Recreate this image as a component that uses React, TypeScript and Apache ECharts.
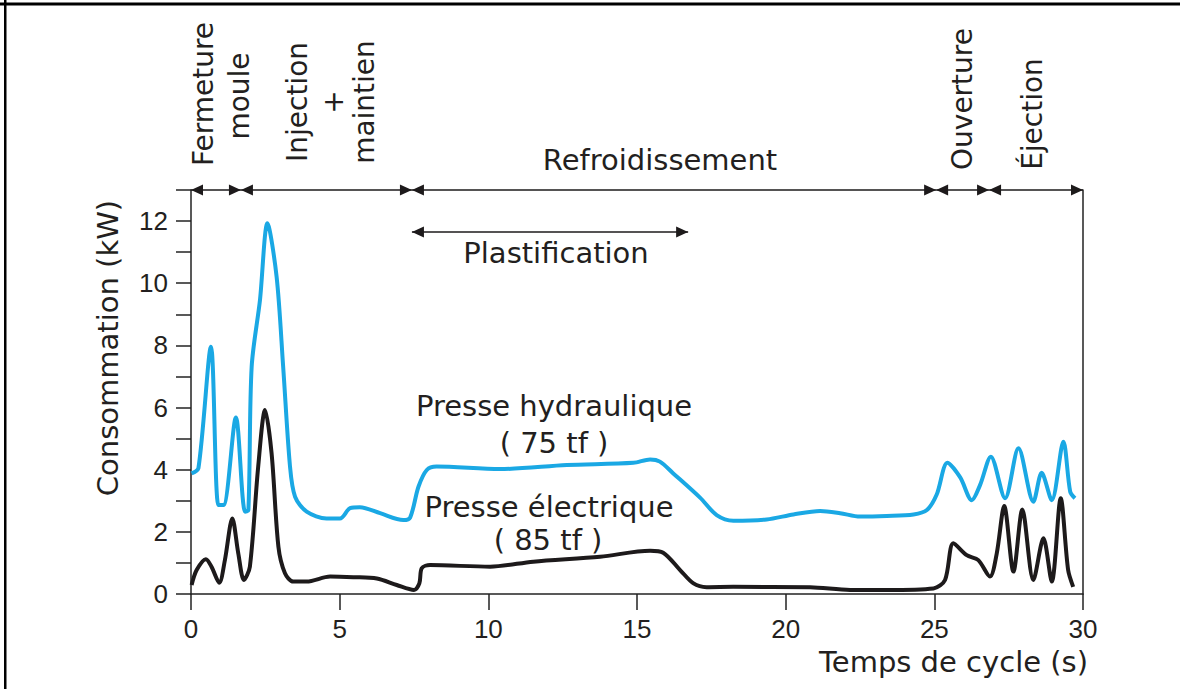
import React, { useEffect, useRef } from "react";
import * as echarts from "echarts";

// Temps de cycle (s) / Consommation (kW)
const hydraulicT = [0.02, 0.25, 0.67, 0.92, 1.09, 1.51, 1.82, 1.93, 2.04, 2.32, 2.57, 2.88, 3.1, 3.33, 3.5, 3.89, 4.56, 5.01, 5.35, 5.68, 6.36, 7.14, 7.37, 7.65, 7.93, 8.26, 10.39, 12.64, 14.88, 15.44, 15.77, 16.22, 17.12, 17.68, 18.24, 19.36, 20.26, 21.16, 21.83, 22.5, 23.4, 24.3, 24.75, 25.08, 25.44, 25.87, 26.26, 26.54, 26.9, 27.38, 27.83, 28.33, 28.61, 28.95, 29.34, 29.57, 29.73];
const hydraulicKW = [3.88, 4.05, 7.96, 2.86, 2.86, 5.68, 2.65, 2.7, 7.31, 9.46, 11.93, 10.2, 7.31, 4.1, 3.13, 2.65, 2.43, 2.43, 2.76, 2.79, 2.6, 2.38, 2.46, 3.45, 3.99, 4.1, 4.02, 4.15, 4.22, 4.33, 4.26, 3.88, 3.1, 2.54, 2.36, 2.4, 2.56, 2.67, 2.6, 2.49, 2.51, 2.56, 2.7, 3.2, 4.22, 3.75, 3.02, 3.51, 4.42, 3.08, 4.69, 2.97, 3.9, 3.02, 4.9, 3.29, 3.08];

const electricT = [0.02, 0.19, 0.5, 0.69, 0.95, 1.14, 1.39, 1.59, 1.78, 1.98, 2.26, 2.49, 2.71, 2.94, 3.16, 3.44, 3.89, 4.68, 5.46, 6.25, 6.92, 7.5, 7.68, 7.76, 8.04, 10.06, 11.51, 13.76, 15.44, 15.88, 16.45, 16.9, 17.34, 18.24, 20.82, 22.17, 23.4, 24.97, 25.36, 25.64, 26.09, 26.48, 26.87, 27.1, 27.35, 27.66, 27.96, 28.33, 28.67, 28.95, 29.25, 29.5, 29.67];
const electricKW = [0.29, 0.77, 1.12, 0.88, 0.36, 1.09, 2.43, 1.31, 0.45, 0.88, 4.1, 5.92, 4.53, 1.52, 0.67, 0.4, 0.4, 0.56, 0.54, 0.5, 0.29, 0.13, 0.34, 0.83, 0.93, 0.88, 1.04, 1.2, 1.39, 1.33, 0.77, 0.34, 0.22, 0.23, 0.22, 0.13, 0.13, 0.18, 0.45, 1.63, 1.25, 1.09, 0.56, 1.31, 2.83, 0.72, 2.72, 0.45, 1.79, 0.4, 3.08, 0.77, 0.23];

const phaseBounds = [0, 1.68, 7.43, 25.06, 26.84, 30];
const phaseRowKW = 13;
const plastStart = 7.43;
const plastEnd = 16.72;
const plastKW = 11.65;

const xTicks = [0, 5, 10, 15, 20, 25, 30];
const yLabelled = [0, 2, 4, 6, 8, 10, 12];

const TEXT = "#231f20";
const FONT = "DejaVu Sans";

function pairs(t: number[], v: number[]) {
  return t.map((x, i) => [x, v[i]]);
}

export default function App() {
  const ref = useRef<HTMLDivElement>(null);
  useEffect(() => {
    document.body.style.margin = "0";
    document.body.style.overflow = "hidden";
    if (!ref.current) return;
    const chart = echarts.init(ref.current, null, { renderer: "svg" });

    const arrowData: number[][] = [];
    for (let i = 0; i < phaseBounds.length - 1; i++) {
      arrowData.push([phaseBounds[i], phaseBounds[i + 1], phaseRowKW]);
    }
    arrowData.push([plastStart, plastEnd, plastKW]);

    const txt = (s: string, x: number, y: number, extra: any = {}) => ({
      type: "text",
      x,
      y,
      rotation: extra.rotation || 0,
      style: {
        text: s,
        fill: TEXT,
        font: `${extra.size || 29}px '${FONT}'`,
        textAlign: extra.align || "center",
        textVerticalAlign: "middle",
      },
    });
    const R = Math.PI / 2;

    chart.setOption({
      animation: false,
      grid: { left: 191, right: 97, top: 190, bottom: 95 },
      xAxis: {
        type: "value",
        min: 0,
        max: 30,
        interval: 5,
        axisLine: { show: true, onZero: false, lineStyle: { color: "#222", width: 1.5 } },
        axisTick: { show: true, length: 16, lineStyle: { color: "#222", width: 1.5 }, customValues: xTicks },
        axisLabel: { margin: 22, color: TEXT, fontSize: 26, fontFamily: "Liberation Sans" },
        splitLine: { show: false },
      },
      yAxis: [
        {
          type: "value",
          min: 0,
          max: 13,
          interval: 1,
          axisLine: { show: true, lineStyle: { color: "#222", width: 1.5 } },
          axisTick: { show: true, length: 15, lineStyle: { color: "#222", width: 1.5 } },
          axisLabel: {
            margin: 23,
            color: TEXT,
            fontSize: 26,
            fontFamily: "Liberation Sans",
            formatter: (v: number) => (yLabelled.indexOf(v) >= 0 ? String(v) : ""),
          },
          splitLine: { show: false },
        },
        {
          type: "value",
          position: "right",
          min: 0,
          max: 13,
          axisLine: { show: true, lineStyle: { color: "#222", width: 1.5 } },
          axisTick: { show: false },
          axisLabel: { show: false },
          splitLine: { show: false },
        },
      ],
      series: [
        {
          type: "line",
          name: "Presse hydraulique",
          data: pairs(hydraulicT, hydraulicKW),
          showSymbol: false,
          smooth: 0.3,
          lineStyle: { color: "#1aa8e4", width: 4, join: "round" },
          z: 3,
        },
        {
          type: "line",
          name: "Presse électrique",
          data: pairs(electricT, electricKW),
          showSymbol: false,
          smooth: 0.3,
          lineStyle: { color: "#1d1a1b", width: 4, join: "round" },
          z: 4,
        },
        {
          type: "custom",
          clip: false,
          data: arrowData,
          encode: { x: [0, 1], y: 2 },
          renderItem: (params: any, api: any) => {
            const p1 = api.coord([api.value(0), api.value(2)]);
            const p2 = api.coord([api.value(1), api.value(2)]);
            const L = 12;
            const H = 5.5;
            const st = { fill: "#1d1a1b" };
            return {
              type: "group",
              children: [
                {
                  type: "line",
                  shape: { x1: p1[0], y1: p1[1], x2: p2[0], y2: p2[1] },
                  style: { stroke: "#1d1a1b", lineWidth: 1.6 },
                },
                {
                  type: "polygon",
                  shape: { points: [[p1[0], p1[1]], [p1[0] + L, p1[1] - H], [p1[0] + L, p1[1] + H]] },
                  style: st,
                },
                {
                  type: "polygon",
                  shape: { points: [[p2[0], p2[1]], [p2[0] - L, p2[1] - H], [p2[0] - L, p2[1] + H]] },
                  style: st,
                },
              ],
            };
          },
        },
      ],
      graphic: [
        { type: "rect", shape: { x: 0, y: 2.5, width: 1180, height: 3 }, style: { fill: "#000" } },
        { type: "rect", shape: { x: 4, y: 0, width: 2.5, height: 689 }, style: { fill: "#000" } },
        txt("Fermeture", 203, 94, { rotation: R, size: 28 }),
        txt("moule", 239, 96, { rotation: R, size: 28 }),
        txt("Injection", 297, 102, { rotation: R, size: 28 }),
        txt("+", 333, 102, { rotation: R, size: 28 }),
        txt("maintien", 364, 102, { rotation: R, size: 28 }),
        txt("Ouverture", 962, 99, { rotation: R, size: 28 }),
        txt("Éjection", 1032, 114, { rotation: R, size: 28 }),
        txt("Refroidissement", 660, 160),
        txt("Plastification", 556, 253),
        txt("Presse hydraulique", 554, 406),
        txt("( 75 tf )", 554, 443),
        txt("Presse électrique", 549, 507),
        txt("( 85 tf )", 548, 540),
        txt("Temps de cycle (s)", 1088, 662, { align: "right" }),
        txt("Consommation (kW)", 108, 348, { rotation: R }),
      ],
    });
    return () => chart.dispose();
  }, []);
  return (
    <div
      ref={ref}
      style={{ position: "absolute", left: 0, top: 0, width: 1180, height: 689, background: "#fff" }}
    />
  );
}
